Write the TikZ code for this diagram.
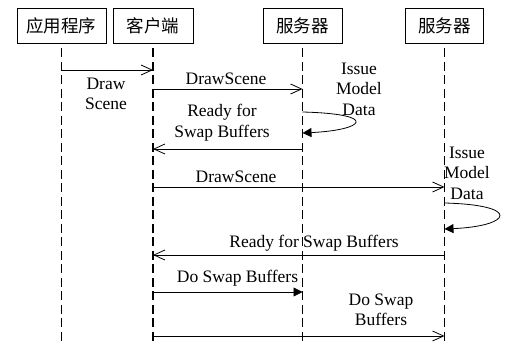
\documentclass[tikz,border=0pt]{standalone}
\usepackage{fontspec}
\setmainfont{Liberation Serif}
\newfontfamily\cjk{Noto Sans CJK SC}
\usetikzlibrary{arrows.meta}
\begin{document}
\begin{tikzpicture}[x=1pt,y=-1pt,
  box/.style={draw,line width=0.9pt,minimum height=35pt,inner sep=0pt,font=\cjk\fontsize{17.5}{20}\selectfont},
  life/.style={line width=1.6pt,dash pattern=on 9pt off 4.5pt},
  msg/.style={line width=0.8pt,-{Straight Barb[length=11pt,width=10pt,line width=0.8pt]}},
  fmsg/.style={line width=0.8pt,-{Triangle[length=9pt,width=9pt]}},
  lbl/.style={align=center,inner sep=0pt,font=\fontsize{17.5}{20.5}\selectfont}]
\useasboundingbox (0,0) rectangle (506,345);
% actors
\node[box,minimum width=89pt] (app) at (61.5,25.5) {应用程序};
\node[box,minimum width=80pt] (client) at (153,25.5) {客户端};
\node[box,minimum width=79pt] (s1) at (302.5,25.5) {服务器};
\node[box,minimum width=78pt] (s2) at (444.5,25.5) {服务器};
% lifelines
\coordinate (appB) at (61.5,345);
\coordinate (clientB) at (153,345);
\coordinate (s1B) at (302.5,345);
\coordinate (s2B) at (444.5,345);
\draw[life] ([yshift=-5pt]app.south) -- (appB);
\draw[life] ([yshift=-5pt]client.south) -- (clientB);
\draw[life] ([yshift=-5pt]s1.south) -- (s1B);
\draw[life] ([yshift=-5pt]s2.south) -- (s2B);
% messages
\draw[msg] (app.center |- 0,70) -- (client.center |- 0,70);
\node[lbl] (l1) at (106,94) {Draw\\Scene};
\draw[msg] (client.center |- 0,89) -- (s1.center |- 0,89);
\node[lbl] (l2) at (226,79) {DrawScene};
\draw[fmsg] (s1.center |- 0,112) .. controls (380,114) and (365,130) .. (s1.center |- 0,133);
\node[lbl] (l3) at (359,89) {Issue\\Model\\Data};
\draw[msg] (s1.center |- 0,149) -- (client.center |- 0,149);
\node[lbl] (l4) at (222,122.5) {Ready for\\Swap Buffers};
\draw[msg] (client.center |- 0,187) -- (s2.center |- 0,187);
\node[lbl] (l5) at (236,177) {DrawScene};
\draw[fmsg] (s2.center |- 0,203) .. controls (522,205) and (512,226) .. (s2.center |- 0,229);
\node[lbl] (l6) at (467,173) {Issue\\Model\\Data};
\draw[msg] (s2.center |- 0,255) -- (client.center |- 0,255);
\node[lbl] (l7) at (314,243) {Ready for Swap Buffers};
\draw[fmsg] (client.center |- 0,292) -- (s1.center |- 0,292);
\node[lbl] (l8) at (237.5,278) {Do Swap Buffers};
\draw[msg] (client.center |- 0,336) -- (s2.center |- 0,336);
\node[lbl] (l9) at (381,310) {Do Swap\\Buffers};
\end{tikzpicture}
\end{document}
